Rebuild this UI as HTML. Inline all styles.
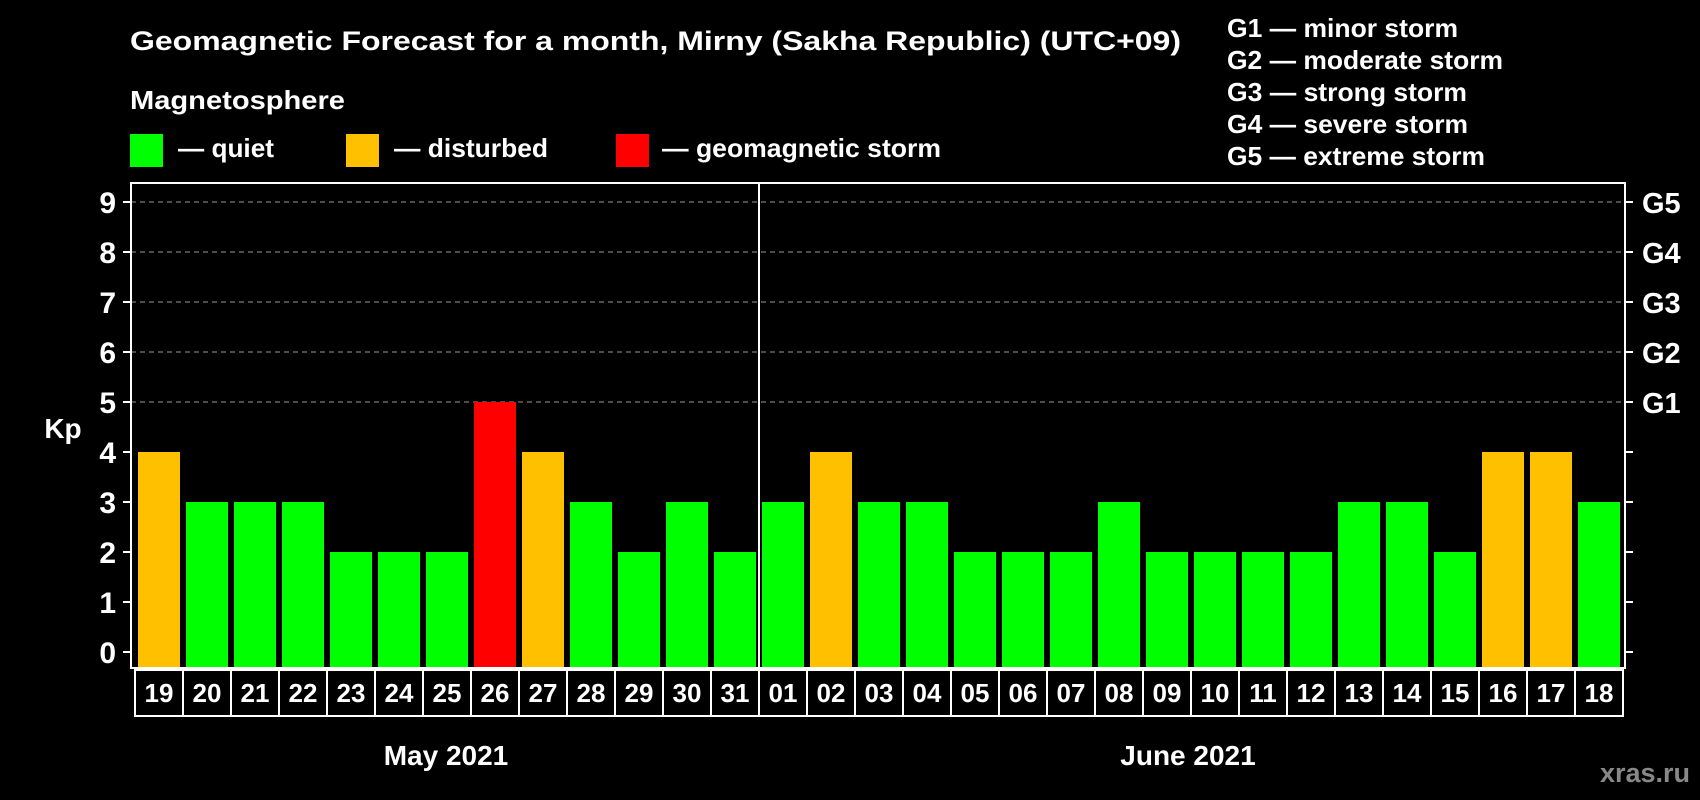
<!DOCTYPE html>
<html><head><meta charset="utf-8"><style>
html,body{margin:0;padding:0;background:#000;}
svg{display:block;font-family:"Liberation Sans",Arial,sans-serif;font-weight:bold;}
</style></head><body>
<svg id="chart" width="1700" height="800" viewBox="0 0 1700 800">
<rect width="1700" height="800" fill="#000"/>
<text x="130" y="50" fill="#fff" font-size="27" textLength="1051" lengthAdjust="spacingAndGlyphs">Geomagnetic Forecast for a month, Mirny (Sakha Republic) (UTC+09)</text>
<text x="130" y="109" fill="#fff" font-size="26" textLength="215" lengthAdjust="spacingAndGlyphs">Magnetosphere</text>
<rect x="130" y="134" width="33" height="33" fill="#00ff00"/>
<text x="178" y="157" fill="#fff" font-size="26" textLength="96" lengthAdjust="spacingAndGlyphs">— quiet</text>
<rect x="346" y="134" width="33" height="33" fill="#ffc000"/>
<text x="394" y="157" fill="#fff" font-size="26" textLength="154" lengthAdjust="spacingAndGlyphs">— disturbed</text>
<rect x="616" y="134" width="33" height="33" fill="#ff0000"/>
<text x="662" y="157" fill="#fff" font-size="26" textLength="279" lengthAdjust="spacingAndGlyphs">— geomagnetic storm</text>
<g font-size="26" fill="#fff">
<text x="1227" y="37" textLength="231" lengthAdjust="spacingAndGlyphs">G1 — minor storm</text>
<text x="1227" y="69" textLength="276" lengthAdjust="spacingAndGlyphs">G2 — moderate storm</text>
<text x="1227" y="101" textLength="240" lengthAdjust="spacingAndGlyphs">G3 — strong storm</text>
<text x="1227" y="133" textLength="241" lengthAdjust="spacingAndGlyphs">G4 — severe storm</text>
<text x="1227" y="165" textLength="258" lengthAdjust="spacingAndGlyphs">G5 — extreme storm</text>
</g>
<text x="63" y="438" fill="#fff" font-size="28" text-anchor="middle">Kp</text>
<text x="446" y="765" fill="#fff" font-size="28" text-anchor="middle">May 2021</text>
<text x="1188" y="765" fill="#fff" font-size="28" text-anchor="middle">June 2021</text>
<text x="1690" y="782" fill="#888" font-size="27" text-anchor="end">xras.ru</text>
<g id="plot"></g>
</svg>
<script>
const days = ["19","20","21","22","23","24","25","26","27","28","29","30","31","01","02","03","04","05","06","07","08","09","10","11","12","13","14","15","16","17","18"];
const kpValues = [4,3,3,3,2,2,2,5,4,3,2,3,2,3,4,3,3,2,2,2,3,2,2,2,2,3,3,2,4,4,3];
const yTicks = [0,1,2,3,4,5,6,7,8,9];
const gLabels = ["G1","G2","G3","G4","G5"];
const monthSplit = 13;

const NS="http://www.w3.org/2000/svg";
const g=document.getElementById('plot');
const L=131,R=1625,T=183,B=668,x0=138,pitch=48,bw=42;
const y=v=>652-50*v;
const xb=i=>x0+i*pitch;
function mk(t,a){const e=document.createElementNS(NS,t);for(const k in a)e.setAttribute(k,a[k]);g.appendChild(e);return e;}

yTicks.forEach(v=>{
  if(v>=5){
    const gl=mk('line',{x1:L,x2:R,y1:y(v),y2:y(v),stroke:'#999','stroke-dasharray':'5,4','stroke-width':1});
    
    
  }
  const tl=mk('line',{x1:L-8,x2:L,y1:y(v),y2:y(v),stroke:'#fff','stroke-width':2});
  
  
  const tr=mk('line',{x1:R,x2:R+8,y1:y(v),y2:y(v),stroke:'#fff','stroke-width':2});
  
  
  const t=mk('text',{x:116,y:y(v)+11,fill:'#fff','font-size':30,'text-anchor':'end'});
  t.textContent=v;
  
  
});
gLabels.forEach((s,i)=>{
  const t=mk('text',{x:1642,y:y(i+5)+11,fill:'#fff','font-size':29});
  t.textContent=s;
  
  
});
kpValues.forEach((v,i)=>{
  const c=v>=5?'#ff0000':(v>=4?'#ffc000':'#00ff00');
  const r=mk('rect',{x:xb(i),y:y(v),width:bw,height:B-y(v),fill:c});
  
  
  const bx=mk('rect',{x:xb(i)-3,y:670,width:pitch,height:46,fill:'none',stroke:'#fff','stroke-width':2});
  
  
  const t=mk('text',{x:xb(i)+bw/2,y:702,fill:'#fff','font-size':26,'text-anchor':'middle'});
  t.textContent=days[i];
  
  
});
const sx=xb(monthSplit)-3;
const sl=mk('line',{x1:sx,x2:sx,y1:T,y2:B,stroke:'#fff','stroke-width':2});


const fr=mk('rect',{x:L,y:T,width:R-L,height:B-T,fill:'none',stroke:'#fff','stroke-width':2});


</script>
</body></html>
